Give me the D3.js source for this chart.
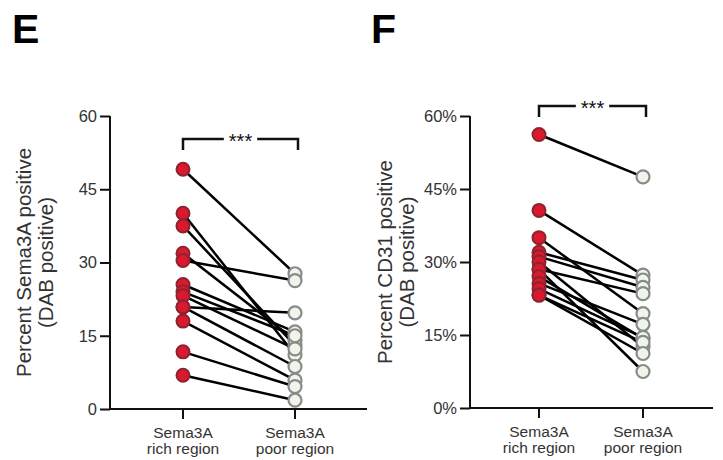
<!DOCTYPE html>
<html>
<head>
<meta charset="utf-8">
<script src="https://cdn.jsdelivr.net/npm/d3@7"></script>
<style>
  body { margin: 0; background: #fff; }
  svg { font-family: "Liberation Sans", Arial, sans-serif; }
</style>
</head>
<body>
<svg id="chart" width="723" height="460"></svg>
<script>
// categories and ticks
var groups = ["rich", "poor"]
var groupLabels = [["Sema3A", "rich region"], ["Sema3A", "poor region"]]
var ticksE = [0, 15, 30, 45, 60]
var ticksF = [0, 15, 30, 45, 60]

// panel E: percent Sema3A positive, paired values (rich, poor)
var semaRich = [49.1, 40.1, 37.5, 31.9, 30.4, 25.5, 24.0, 23.2, 20.9, 20.9, 18.0, 11.7, 6.9]
var semaPoor = [27.7, 11.1, 13.0, 14.1, 26.3, 15.8, 15.0, 12.3, 19.7, 8.7, 5.9, 4.6, 1.8]

// panel F: percent CD31 positive
var cd31Rich = [56.2, 40.6, 35.0, 32.0, 31.1, 30.0, 28.5, 28.5, 27.0, 25.6, 24.5, 23.2, 23.2]
var cd31Poor = [47.5, 27.3, 19.4, 26.3, 24.8, 12.6, 23.5, 7.5, 14.3, 17.2, 14.5, 13.5, 11.2]

var svg = d3.select("#chart")

function drawPanel(opt) {
    var y = d3.scaleLinear().domain([0, 60]).range([opt.y0, opt.y60])
    var x = d3.scalePoint().domain(groups).range([opt.xRich, opt.xPoor])
    var g = svg.append("g")

    // panel letter
    g.append("text")
        .attr("x", opt.letterX).attr("y", 43)
        .style("font-size", "41px").style("font-weight", "bold")
        .text(opt.letter)

    // y axis
    var yAxis = d3.axisLeft(y).tickValues(opt.ticks).tickSize(10).tickPadding(3)
        .tickFormat(opt.fmt)
    var ya = g.append("g").attr("transform", "translate(" + opt.axisX + ",0)").call(yAxis)
    ya.select(".domain").attr("d", "M0," + opt.y60 + "V" + opt.y0)
    ya.selectAll("line, path").attr("stroke", "#111").attr("stroke-width", 2)
    ya.selectAll("text").style("font-size", "16.5px").attr("fill", "#333")

    // x axis
    g.append("line")
        .attr("x1", opt.axisX - 1).attr("x2", opt.axisEnd)
        .attr("y1", opt.y0).attr("y2", opt.y0)
        .attr("stroke", "#111").attr("stroke-width", 2)
    var xt = g.selectAll(".xt").data(groups).enter().append("g")
        .attr("transform", function(d) { return "translate(" + x(d) + "," + opt.y0 + ")" })
    xt.append("line").attr("y1", 0).attr("y2", 10).attr("stroke", "#111").attr("stroke-width", 2)
    xt.each(function(d, i) {
        var t = d3.select(this).append("text")
            .attr("text-anchor", "middle").style("font-size", "15.5px").attr("fill", "#333")
        t.append("tspan").attr("x", 0).attr("y", 29).text(groupLabels[i][0])
        t.append("tspan").attr("x", 0).attr("y", 44.5).text(groupLabels[i][1])
    })

    // y label
    var lab = g.append("text")
        .attr("transform", "translate(" + opt.labelX + "," + ((opt.y0 + opt.y60) / 2) + ") rotate(-90)")
        .attr("text-anchor", "middle").style("font-size", "20.5px").attr("fill", "#333")
    lab.append("tspan").attr("x", 0).attr("y", 0).text(opt.label[0])
    lab.append("tspan").attr("x", 0).attr("y", 22).text(opt.label[1])

    // significance bracket
    var by = opt.bracketY
    var bx1 = x("rich"), bx2 = x("poor") + 3, mid = (bx1 + bx2) / 2
    var star = g.append("text").attr("x", mid).attr("y", by + 9)
        .attr("text-anchor", "middle").style("font-size", "20px").attr("fill", "#111")
        .text("***")
    var half = star.node().getComputedTextLength() / 2 + 5
    g.append("path")
        .attr("d", "M" + bx1 + "," + (by + 11) + "V" + by + "H" + (mid - half) +
                   "M" + (mid + half) + "," + by + "H" + bx2 + "V" + (by + 11))
        .attr("fill", "none").attr("stroke", "#111").attr("stroke-width", 2.5)

    // pair lines
    var pairs = opt.rich.map(function(v, i) { return [v, opt.poor[i]] })
    g.selectAll(".pair").data(pairs).enter().append("line")
        .attr("x1", x("rich")).attr("x2", x("poor"))
        .attr("y1", function(d) { return y(d[0]) })
        .attr("y2", function(d) { return y(d[1]) })
        .attr("stroke", "#000").attr("stroke-width", 2.5)

    g.selectAll(".rich").data(opt.rich).enter().append("circle")
        .attr("cx", x("rich")).attr("cy", function(d) { return y(d) }).attr("r", 6.5)
        .attr("fill", "#d8192e").attr("stroke", "#8e2330").attr("stroke-width", 2)

    g.selectAll(".poor").data(opt.poor).enter().append("circle")
        .attr("cx", x("poor")).attr("cy", function(d) { return y(d) }).attr("r", 6.5)
        .attr("fill", "#eef6ec").attr("stroke", "#8a8a88").attr("stroke-width", 2.2)
}

drawPanel({
    letter: "E", letterX: 12,
    axisX: 110, axisEnd: 367, y0: 409, y60: 116,
    xRich: 183, xPoor: 295, bracketY: 139,
    ticks: ticksE, fmt: function(d) { return d },
    label: ["Percent Sema3A positive", "(DAB positive)"], labelX: 31,
    rich: semaRich, poor: semaPoor
})

drawPanel({
    letter: "F", letterX: 371,
    axisX: 470, axisEnd: 713, y0: 408, y60: 116,
    xRich: 539, xPoor: 643, bracketY: 106,
    ticks: ticksF, fmt: function(d) { return d + "%" },
    label: ["Percent CD31 positive", "(DAB positive)"], labelX: 392,
    rich: cd31Rich, poor: cd31Poor
})
</script>
</body>
</html>
